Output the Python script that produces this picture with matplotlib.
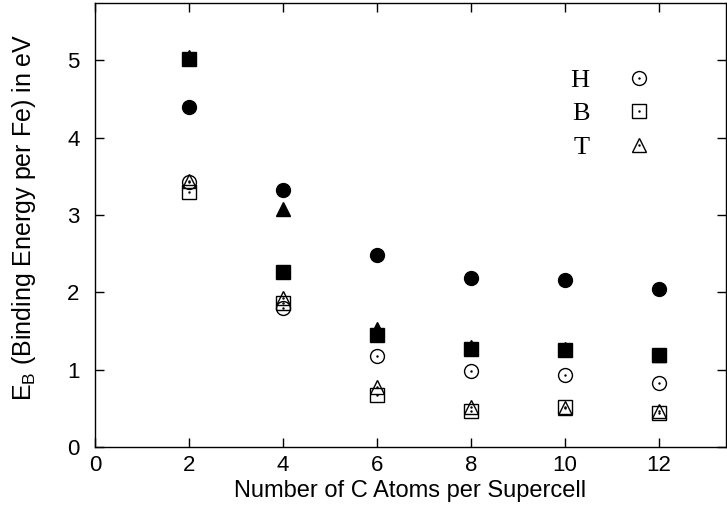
import matplotlib
matplotlib.use('Agg')
from matplotlib import pyplot as plt
from matplotlib.legend_handler import HandlerTuple

n_atoms = [2, 4, 6, 8, 10, 12]

# filled symbols
full_circle = [4.40, 3.32, 2.48, 2.19, 2.16, 2.04]
full_square = [5.02, 2.26, 1.45, 1.27, 1.25, 1.19]
full_triangle = [5.04, 3.08, 1.53, 1.29, 1.27, 1.19]

# open symbols (H, B, T sites)
site_h = [3.42, 1.80, 1.17, 0.98, 0.93, 0.83]
site_b = [3.30, 1.86, 0.67, 0.47, 0.52, 0.44]
site_t = [3.44, 1.93, 0.77, 0.52, 0.50, 0.46]
site_labels = ['H', 'B', 'T']

plt.rcParams['font.family'] = ['Liberation Sans', 'DejaVu Sans']
plt.rcParams['mathtext.fontset'] = 'custom'
plt.rcParams['mathtext.rm'] = 'Liberation Sans'

fig = plt.figure(figsize=(7.27, 5.2), dpi=100)
ax = fig.add_axes([0.1307, 0.1404, 0.8680, 0.8538])

ms = 10
ax.plot(n_atoms, full_triangle, '^', color='black', ms=ms, ls='none')
ax.plot(n_atoms, full_square, 's', color='black', ms=ms - 0.5, ls='none')
ax.plot(n_atoms, full_circle, 'o', color='black', ms=ms, ls='none')

handles = []
for vals, mk, size in [(site_h, 'o', ms), (site_b, 's', ms - 0.5), (site_t, '^', ms)]:
    mline, = ax.plot(n_atoms, vals, mk, mfc='none', mec='black', mew=1.0, ms=size, ls='none')
    dline, = ax.plot(n_atoms, vals, '.', color='black', ms=1.5, ls='none')
    handles.append((mline, dline))

leg = ax.legend(handles, site_labels, handler_map={tuple: HandlerTuple(ndivide=1)},
                loc='upper right', bbox_to_anchor=(0.9205, 0.906), frameon=False,
                markerfirst=False, handlelength=1.0, handletextpad=1.37,
                labelspacing=0.38, prop={'family': 'Liberation Serif', 'size': 19})

ax.set_xlim(0, 13.43)
ax.set_ylim(0, 5.74)
ax.set_xticks([0, 2, 4, 6, 8, 10, 12])
ax.set_yticks([0, 1, 2, 3, 4, 5])
ax.tick_params(direction='in', length=6.5, width=1, top=True, right=True, labelsize=16)
ax.tick_params(axis='x', pad=6)
ax.tick_params(axis='y', pad=11)
for sp in ax.spines.values():
    sp.set_linewidth(1.0)

ax.set_xlabel('Number of C Atoms per Supercell', fontsize=17, labelpad=3)
ax.set_ylabel(r'E$_\mathregular{B}$ (Binding Energy per Fe) in eV', fontsize=18)
ax.yaxis.set_label_coords(-0.090, 0.518)

fig.savefig('out.png', dpi=100)
